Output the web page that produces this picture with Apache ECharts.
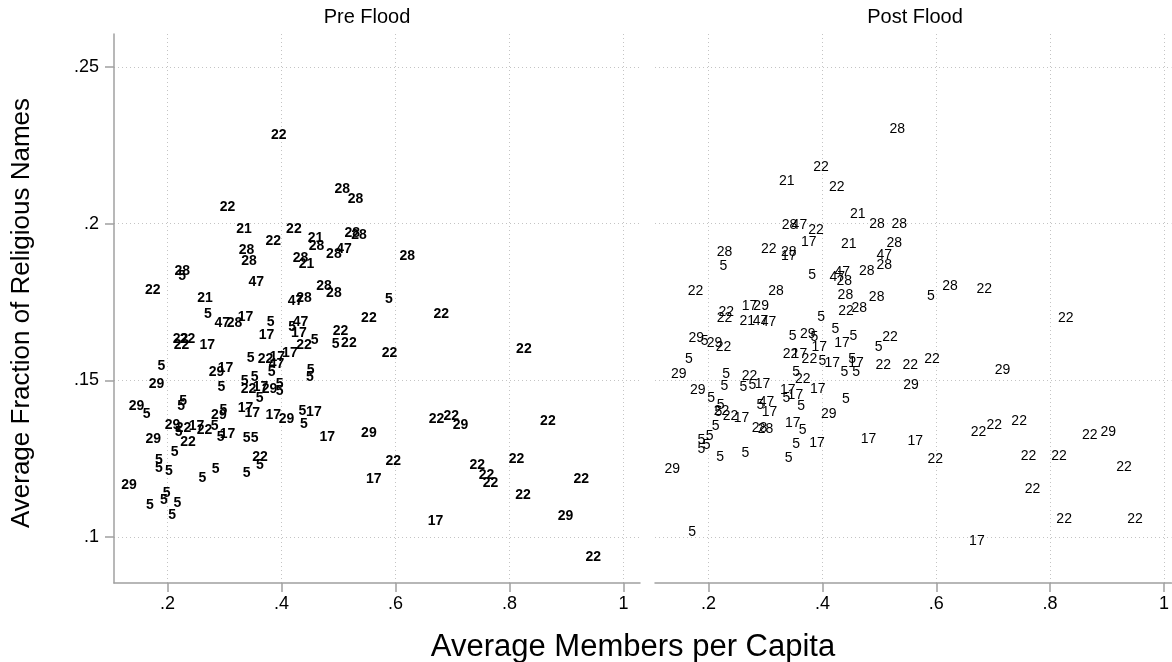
<!DOCTYPE html>
<html>
<head>
<meta charset="utf-8">
<script src="https://cdn.jsdelivr.net/npm/echarts@6/dist/echarts.min.js"></script>
<style>
  html, body { margin: 0; padding: 0; background: #fff; }
  #chart { width: 1172px; height: 662px; }
</style>
</head>
<body>
<div id="chart"></div>
<script>
// Pre Flood: members per capita, fraction of religious names, group code
const preX = [
  0.395, 0.305, 0.334, 0.4216, 0.3854, 0.3386, 0.3427, 0.2257, 0.2257, 0.3556,
  0.1742, 0.2655, 0.2708, 0.296, 0.3175, 0.3368, 0.3807, 0.3737, 0.4333, 0.4187,
  0.4304, 0.2228, 0.2351, 0.2246, 0.2696, 0.5065, 0.5298, 0.4596, 0.4614, 0.524,
  0.5357, 0.5094, 0.4918, 0.4333, 0.4439, 0.6205, 0.4743, 0.4918, 0.4246, 0.4392,
  0.5883, 0.5532, 0.6801, 0.5035, 0.4947, 0.5181, 0.4392, 0.4579, 0.4146, 0.5895,
  0.3456, 0.3719, 0.3924, 0.3912, 0.3825, 0.286, 0.3018, 0.4509, 0.4497, 0.2942,
  0.3351, 0.3526, 0.3421, 0.3632, 0.3789, 0.3965, 0.3965, 0.3614, 0.3368, 0.3486,
  0.3854, 0.4088, 0.4363, 0.4567, 0.4392, 0.4801, 0.5532, 0.29, 0.2977, 0.293,
  0.3053, 0.3386, 0.3526, 0.362, 0.362, 0.2842, 0.3386, 0.2609, 0.5619, 0.596,
  0.189, 0.1807, 0.1456, 0.1632, 0.2275, 0.224, 0.2088, 0.2193, 0.2281, 0.2509,
  0.2649, 0.2825, 0.1749, 0.2357, 0.2123, 0.1848, 0.1848, 0.2023, 0.1322, 0.1982,
  0.1935, 0.217, 0.1689, 0.2082, 0.8251, 0.6719, 0.6977, 0.714, 0.8672, 0.7433,
  0.7596, 0.7667, 0.8123, 0.8234, 0.9258, 0.6702, 0.8982, 0.9468
];
const preY = [
  0.2283, 0.2052, 0.1982, 0.1982, 0.1944, 0.1914, 0.1879, 0.1847, 0.1833, 0.1813,
  0.1787, 0.1761, 0.1712, 0.1682, 0.1682, 0.1703, 0.1687, 0.1645, 0.1687, 0.1671,
  0.165, 0.1632, 0.1632, 0.1613, 0.1613, 0.211, 0.2078, 0.1953, 0.1929, 0.1969,
  0.1962, 0.1918, 0.1903, 0.1889, 0.187, 0.1897, 0.1799, 0.1778, 0.1753, 0.1762,
  0.176, 0.1698, 0.1712, 0.1658, 0.1615, 0.162, 0.1613, 0.1629, 0.1588, 0.1588,
  0.157, 0.1567, 0.1573, 0.1552, 0.1527, 0.1527, 0.1538, 0.1533, 0.151, 0.1478,
  0.1498, 0.1511, 0.1472, 0.1479, 0.1472, 0.1488, 0.1466, 0.1443, 0.1411, 0.1395,
  0.1389, 0.1376, 0.14, 0.1397, 0.1361, 0.132, 0.1331, 0.1389, 0.1405, 0.1319,
  0.1329, 0.1316, 0.1316, 0.1256, 0.123, 0.1216, 0.1203, 0.1187, 0.1184, 0.1242,
  0.1546, 0.1488, 0.1416, 0.1392, 0.1432, 0.1416, 0.1357, 0.1335, 0.1348, 0.1354,
  0.1341, 0.1354, 0.1312, 0.1304, 0.1272, 0.1246, 0.1219, 0.1211, 0.1166, 0.1139,
  0.1118, 0.1107, 0.1102, 0.107, 0.16, 0.1376, 0.1384, 0.1357, 0.137, 0.123,
  0.1198, 0.1171, 0.1249, 0.1134, 0.1185, 0.1051, 0.1065, 0.0937
];
const preCode = [
  22, 22, 21, 22, 22, 28, 28, 28, 5, 47,
  22, 21, 5, 47, 28, 17, 5, 17, 47, 5,
  17, 22, 22, 22, 17, 28, 28, 21, 28, 28,
  28, 47, 28, 28, 21, 28, 28, 28, 47, 28,
  5, 22, 22, 22, 5, 22, 22, 5, 17, 22,
  5, 22, 17, 47, 5, 29, 17, 5, 5, 5,
  5, 5, 22, 17, 29, 5, 5, 5, 17, 17,
  17, 29, 5, 17, 5, 17, 29, 29, 5, 5,
  17, 5, 5, 22, 5, 5, 5, 5, 17, 22,
  5, 29, 29, 5, 5, 5, 29, 5, 22, 17,
  22, 5, 29, 22, 5, 5, 5, 5, 29, 5,
  5, 5, 5, 5, 22, 22, 22, 29, 22, 22,
  22, 22, 22, 22, 22, 17, 29, 22
];

// Post Flood
const postX = [
  0.5316, 0.3977, 0.3374, 0.4251, 0.462, 0.496, 0.5351, 0.3421, 0.3596, 0.3889,
  0.376, 0.4462, 0.5263, 0.5088, 0.5088, 0.4778, 0.2281, 0.2263, 0.3058, 0.3409,
  0.3409, 0.3819, 0.4351, 0.4263, 0.4386, 0.4404, 0.4953, 0.4649, 0.4415, 0.1772,
  0.3187, 0.2719, 0.2924, 0.231, 0.2281, 0.2679, 0.2912, 0.3053, 0.3977, 0.1784,
  0.193, 0.2105, 0.2263, 0.1654, 0.1479, 0.231, 0.2281, 0.1813, 0.2047, 0.2211,
  0.2228, 0.2175, 0.2386, 0.2579, 0.2123, 0.2018, 0.1877, 0.1965, 0.1877, 0.2205,
  0.2649, 0.1363, 0.1714, 0.3409, 0.3538, 0.3907, 0.3479, 0.3655, 0.4111, 0.4415,
  0.4812, 0.2895, 0.30, 0.2912, 0.3018, 0.307, 0.3391, 0.3368, 0.3526, 0.3626,
  0.3918, 0.3538, 0.3655, 0.2719, 0.2614, 0.2772, 0.2947, 0.3479, 0.3742, 0.386,
  0.4228, 0.4345, 0.4544, 0.4988, 0.5188, 0.3439, 0.3596, 0.3772, 0.3947, 0.40,
  0.4175, 0.4521, 0.4591, 0.4386, 0.4591, 0.507, 0.5544, 0.5924, 0.5556, 0.5906,
  0.624, 0.6842, 0.8275, 0.7164, 0.6742, 0.7018, 0.7456, 0.5632, 0.5982, 0.762,
  0.8158, 0.8696, 0.9023, 0.9298, 0.769, 0.8246, 0.9491, 0.6714
];
const postY = [
  0.2302, 0.218, 0.2137, 0.2116, 0.203, 0.1998, 0.1998, 0.1995, 0.1995, 0.198,
  0.194, 0.1934, 0.1939, 0.19, 0.1868, 0.1849, 0.191, 0.1863, 0.1918, 0.1909,
  0.1895, 0.1836, 0.1846, 0.183, 0.1817, 0.1772, 0.1765, 0.173, 0.1719, 0.1783,
  0.1783, 0.1735, 0.1735, 0.1716, 0.1698, 0.1689, 0.1689, 0.1686, 0.1703, 0.1636,
  0.1625, 0.162, 0.1607, 0.1567, 0.152, 0.152, 0.148, 0.1467, 0.1443, 0.1421,
  0.1402, 0.1399, 0.1386, 0.138, 0.1354, 0.1322, 0.1309, 0.1294, 0.1281, 0.1256,
  0.1269, 0.1216, 0.1014, 0.1253, 0.1296, 0.1299, 0.1363, 0.1341, 0.1392, 0.1439,
  0.1313, 0.1348, 0.1345, 0.1421, 0.1431, 0.1399, 0.1469, 0.1443, 0.1453, 0.1418,
  0.1472, 0.1527, 0.1503, 0.1514, 0.1479, 0.1485, 0.1488, 0.1641, 0.1648, 0.1639,
  0.1663, 0.162, 0.1641, 0.1607, 0.1637, 0.1584, 0.1584, 0.1568, 0.1606, 0.1562,
  0.1555, 0.1567, 0.1555, 0.1526, 0.1527, 0.1547, 0.1547, 0.1568, 0.1485, 0.177,
  0.1799, 0.179, 0.1698, 0.1533, 0.1334, 0.1357, 0.1368, 0.1307, 0.1249, 0.1259,
  0.1259, 0.1325, 0.1333, 0.1224, 0.1153, 0.1057, 0.1057, 0.0988
];
const postCode = [
  28, 22, 21, 22, 21, 28, 28, 28, 47, 22,
  17, 21, 28, 47, 28, 28, 28, 5, 22, 28,
  17, 5, 47, 47, 28, 28, 28, 28, 22, 22,
  28, 17, 29, 22, 22, 21, 47, 47, 5, 29,
  5, 29, 22, 5, 29, 5, 5, 29, 5, 5,
  22, 5, 22, 17, 5, 5, 5, 5, 5, 5,
  5, 29, 5, 5, 5, 17, 17, 5, 29, 5,
  17, 28, 28, 5, 47, 17, 17, 5, 17, 5,
  17, 5, 22, 22, 5, 5, 17, 5, 29, 5,
  5, 17, 5, 5, 22, 22, 17, 22, 17, 5,
  17, 5, 17, 5, 5, 22, 22, 22, 29, 5,
  28, 22, 22, 29, 22, 22, 22, 17, 22, 22,
  22, 22, 29, 22, 22, 22, 22, 17
];

// Axis ticks and their printed labels
const xTicks = [0.2, 0.4, 0.6, 0.8, 1];
const xTickLabels = ['.2', '.4', '.6', '.8', '1'];
const yTicks = [0.1, 0.15, 0.2, 0.25];
const yTickLabels = ['.1', '.15', '.2', '.25'];

const panelTitles = ['Pre Flood', 'Post Flood'];
const xTitle = 'Average Members per Capita';
const yTitle = 'Average Fraction of Religious Names';

const FONT = '"Liberation Sans", Arial, Helvetica, sans-serif';
const X_MIN = 0.106;
const Y_MIN = 0.0853, Y_MAX = 0.2605;
const AXIS_GRAY = '#a0a0a0';
const GRID_GRAY = '#c4c4c4';

function zip(xs, ys, codes) {
  return xs.map((x, i) => [x, ys[i], codes[i]]);
}
function tickText(ticks, labels) {
  return v => {
    const i = ticks.findIndex(t => Math.abs(t - v) < 1e-9);
    return i >= 0 ? labels[i] : '';
  };
}

const chart = echarts.init(document.getElementById('chart'), null, { renderer: 'canvas' });

function xAxisFor(idx, max) {
  return {
    gridIndex: idx, type: 'value', min: X_MIN, max: max,
    axisLine: { show: true, onZero: false, lineStyle: { color: AXIS_GRAY, width: 1.5 } },
    axisTick: { show: true, length: 9, customValues: xTicks, lineStyle: { color: AXIS_GRAY, width: 1.5 } },
    axisLabel: { show: true, customValues: xTicks, formatter: tickText(xTicks, xTickLabels),
                 color: '#000', fontSize: 18, fontFamily: FONT, margin: 12 },
    splitLine: { show: true, lineStyle: { color: GRID_GRAY, type: [1, 3], width: 1 } }
  };
}
function yAxisFor(idx, showAxis) {
  return {
    gridIndex: idx, type: 'value', min: Y_MIN, max: Y_MAX,
    axisLine: { show: showAxis, onZero: false, lineStyle: { color: AXIS_GRAY, width: 1.5 } },
    axisTick: { show: showAxis, length: 9, customValues: yTicks, lineStyle: { color: AXIS_GRAY, width: 1.5 } },
    axisLabel: { show: showAxis, customValues: yTicks, formatter: tickText(yTicks, yTickLabels),
                 color: '#000', fontSize: 18, fontFamily: FONT, margin: 15 },
    splitLine: { show: true, lineStyle: { color: GRID_GRAY, type: [1, 3], width: 1 } }
  };
}
// Each observation is drawn as its group code, centred on the point
function labelSeries(idx, data, weight) {
  return {
    type: 'scatter', xAxisIndex: idx, yAxisIndex: idx,
    data: data, symbolSize: 0,
    itemStyle: { color: '#000', opacity: 1 },
    label: {
      show: true, position: 'inside',
      formatter: p => String(p.data[2]),
      color: '#000', fontSize: 14, fontWeight: weight, fontFamily: FONT,
      textBorderWidth: 0
    },
    emphasis: { disabled: true },
    silent: true
  };
}

chart.setOption({
  animation: false,
  backgroundColor: '#fff',
  grid: [
    { left: 114, right: 532, top: 34, bottom: 79 },
    { left: 655, right: 0, top: 34, bottom: 79 }
  ],
  xAxis: [xAxisFor(0, X_MIN + 526 / 570), xAxisFor(1, X_MIN + 517 / 570)],
  yAxis: [yAxisFor(0, true), yAxisFor(1, false)],
  series: [
    labelSeries(0, zip(preX, preY, preCode), 'bold'),
    labelSeries(1, zip(postX, postY, postCode), 'normal')
  ],
  graphic: [
    { type: 'text', x: 367, y: 17, style: { text: panelTitles[0], font: '20px ' + FONT, fill: '#000', textAlign: 'center', textVerticalAlign: 'middle' } },
    { type: 'text', x: 915, y: 17, style: { text: panelTitles[1], font: '20px ' + FONT, fill: '#000', textAlign: 'center', textVerticalAlign: 'middle' } },
    { type: 'text', x: 633, y: 647, style: { text: xTitle, font: '31px ' + FONT, fill: '#000', textAlign: 'center', textVerticalAlign: 'middle' } },
    { type: 'text', x: 22, y: 313, rotation: Math.PI / 2, style: { text: yTitle, font: '26px ' + FONT, fill: '#000', textAlign: 'center', textVerticalAlign: 'middle' } }
  ]
});
</script>
</body>
</html>
